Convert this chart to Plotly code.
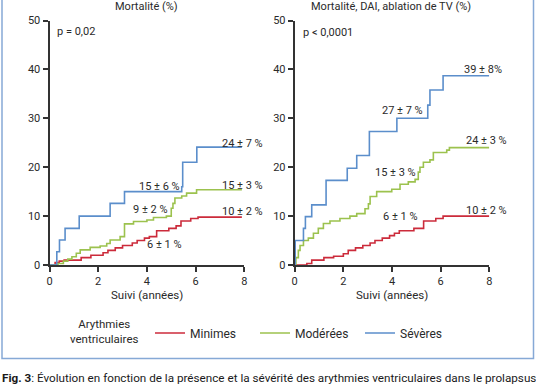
import plotly.graph_objects as go

W, H = 536, 386

# ---------------- data ----------------
panel_titles = ["Mortalité (%)", "Mortalité, DAI, ablation de TV (%)"]
series_names = ["Minimes", "Modérées", "Sévères"]
series_colors = ["#cc2b3b", "#9cc24e", "#5b8ecb"]

# Left panel: Mortalité
left_min_t = [0, 0.23, 0.4, 0.6, 1.3, 1.7, 2.2, 2.4, 2.7, 3.0, 3.4, 3.6, 3.9, 4.1, 4.4, 4.9, 5.2, 5.4, 5.8, 6.1, 7.9]
left_min_v = [0, 0.5, 0.8, 1.0, 1.5, 2.0, 2.5, 3.0, 3.5, 4.0, 4.5, 5.0, 5.5, 5.8, 7.0, 7.5, 8.0, 9.0, 9.5, 9.8, 9.8]

left_mod_t = [0, 0.35, 0.57, 0.75, 0.92, 1.1, 1.26, 1.67, 2.08, 2.35, 2.49, 2.9, 3.08, 3.45, 4.0, 4.27, 4.8, 5.0, 5.07, 5.15, 5.43, 5.63, 6.04, 7.9]
left_mod_v = [0, 0.3, 0.8, 1.2, 1.7, 2.4, 3.1, 3.6, 3.9, 4.4, 5.1, 5.8, 8.4, 8.9, 9.2, 9.7, 10.0, 11.6, 12.6, 13.7, 14.1, 14.7, 15.4, 15.4]

left_sev_t = [0, 0.30, 0.41, 0.64, 1.22, 2.49, 3.08, 5.43, 5.47, 6.05, 7.9]
left_sev_v = [0, 2.7, 5.1, 7.5, 10.0, 12.6, 15.0, 16.0, 21.0, 24.1, 24.1]

# Right panel: Mortalité, DAI, ablation de TV
right_min_t = [0, 0.5, 0.7, 1.2, 1.6, 2.0, 2.2, 2.5, 2.8, 3.1, 3.3, 3.6, 3.9, 4.1, 4.3, 4.9, 5.3, 5.8, 6.1, 8.0]
right_min_v = [0, 0.3, 1.0, 1.5, 1.8, 2.3, 3.0, 3.5, 4.0, 4.5, 5.0, 5.5, 6.0, 6.5, 7.0, 7.5, 9.0, 9.5, 10.0, 10.0]

right_mod_t = [0, 0.05, 0.15, 0.22, 0.36, 0.56, 0.77, 0.97, 1.18, 1.45, 1.86, 2.27, 2.55, 2.89, 3.03, 3.1, 3.37, 3.99, 4.33, 4.67, 4.95, 5.08, 5.15, 5.29, 5.56, 5.7, 6.25, 6.36, 8.0]
right_mod_v = [0, 1.5, 3, 4, 5, 5.5, 6.5, 7.5, 8.5, 9, 9.5, 10, 10.5, 11.5, 12.5, 14, 15, 15.5, 16.5, 17, 17.5, 19, 20, 21, 21.5, 23, 23.5, 24, 24]

right_sev_t = [0, 0.02, 0.36, 0.44, 0.70, 1.29, 2.16, 2.55, 3.07, 4.2, 5.47, 5.56, 6.1, 8.0]
right_sev_v = [0, 5.0, 7.5, 9.9, 12.3, 17.3, 19.8, 22.4, 27.3, 30.0, 32.7, 35.8, 38.7, 38.7]

# annotations: (text, x, y)
left_labels = [("p = 0,02", 0.23, 47.8), ("24 ± 7 %", 7.0, 24.9), ("15 ± 6 %", 3.6, 16.1),
               ("15 ± 3 %", 7.0, 16.3), ("9 ± 2 %", 3.35, 11.4), ("10 ± 2 %", 7.0, 11.0),
               ("6 ± 1 %", 3.93, 4.1)]
right_labels = [("p < 0,0001", 0.26, 47.6), ("39 ± 8%", 6.87, 39.9), ("27 ± 7 %", 3.51, 31.5),
                ("24 ± 3 %", 6.97, 25.5), ("15 ± 3 %", 3.23, 19.0), ("6 ± 1 %", 3.54, 9.9),
                ("10 ± 2 %", 6.97, 11.2)]

x_ticks = [0, 2, 4, 6, 8]
y_ticks = [0, 10, 20, 30, 40, 50]
x_title = "Suivi (années)"
legend_title = "Arythmies<br>ventriculaires"
caption = "<b>Fig. 3</b>: Évolution en fonction de la présence et la sévérité des arythmies ventriculaires dans le prolapsus"

# ---------------- figure ----------------
FONT = "Roboto"
TXT = "#2a2a2a"

fig = go.Figure()

left_data = [(left_min_t, left_min_v), (left_mod_t, left_mod_v), (left_sev_t, left_sev_v)]
right_data = [(right_min_t, right_min_v), (right_mod_t, right_mod_v), (right_sev_t, right_sev_v)]

for i, (t, v) in enumerate(left_data):
    fig.add_trace(go.Scatter(x=t, y=v, mode="lines", line=dict(color=series_colors[i], width=1.6, shape="hv"),
                             name=series_names[i], xaxis="x", yaxis="y", showlegend=True))
for i, (t, v) in enumerate(right_data):
    fig.add_trace(go.Scatter(x=t, y=v, mode="lines", line=dict(color=series_colors[i], width=1.6, shape="hv"),
                             name=series_names[i], xaxis="x2", yaxis="y2", showlegend=False))

def px_x(p):
    return p / W

def px_y(p):
    return (H - p) / H

axis_common = dict(showgrid=False, zeroline=False, showline=True, linecolor="#333333",
                   ticks="outside", ticklen=5, tickwidth=1.5, tickcolor="#333333", automargin=False,
                   tickfont=dict(family=FONT, size=11, color=TXT))

fig.update_layout(
    width=W, height=H,
    margin=dict(l=0, r=0, t=0, b=0, pad=0, autoexpand=False),
    paper_bgcolor="white", plot_bgcolor="white",
    font=dict(family=FONT, size=11, color=TXT),
    xaxis=dict(domain=[px_x(49.5), px_x(244.3)], range=[0, 8], tickvals=x_ticks, anchor="y",
               linewidth=1.5, **axis_common),
    yaxis=dict(domain=[px_y(265), px_y(20.5)], range=[0, 50], tickvals=y_ticks, anchor="x",
               linewidth=2, **axis_common),
    xaxis2=dict(domain=[px_x(294.7), px_x(489.3)], range=[0, 8], tickvals=x_ticks, anchor="y2",
                linewidth=1.5, **axis_common),
    yaxis2=dict(domain=[px_y(265), px_y(20.5)], range=[0, 50], tickvals=y_ticks, anchor="x2",
                linewidth=2, **axis_common),
    legend=dict(orientation="h", x=px_x(150), xanchor="left", y=px_y(333), yanchor="middle",
                entrywidth=60, entrywidthmode="pixels", itemwidth=30,
                font=dict(family=FONT, size=12, color=TXT), bgcolor="rgba(0,0,0,0)"),
)

annotations = []
for txt, x, y in left_labels:
    annotations.append(dict(text=txt, x=x, y=y, xref="x", yref="y", xanchor="left", yanchor="middle",
                            showarrow=False, font=dict(family=FONT, size=11, color=TXT)))
for txt, x, y in right_labels:
    annotations.append(dict(text=txt, x=x, y=y, xref="x2", yref="y2", xanchor="left", yanchor="middle",
                            showarrow=False, font=dict(family=FONT, size=11, color=TXT)))

# panel titles
annotations.append(dict(text=panel_titles[0], x=px_x(146.5), y=px_y(6), xref="paper", yref="paper",
                        xanchor="center", yanchor="middle", showarrow=False, font=dict(family=FONT, size=11, color=TXT)))
annotations.append(dict(text=panel_titles[1], x=px_x(391), y=px_y(6), xref="paper", yref="paper",
                        xanchor="center", yanchor="middle", showarrow=False, font=dict(family=FONT, size=11, color=TXT)))
# x titles
for cx in (146.7, 392):
    annotations.append(dict(text=x_title, x=px_x(cx), y=px_y(295), xref="paper", yref="paper",
                            xanchor="center", yanchor="middle", showarrow=False,
                            font=dict(family=FONT, size=11.5, color=TXT)))
# legend title
annotations.append(dict(text=legend_title, x=px_x(104), y=px_y(331), xref="paper", yref="paper",
                        xanchor="center", yanchor="middle", align="center", showarrow=False,
                        font=dict(family=FONT, size=11.5, color=TXT)))
# caption
annotations.append(dict(text=caption, x=0, y=px_y(378), xref="paper", yref="paper",
                        xanchor="left", yanchor="middle", align="left", showarrow=False,
                        font=dict(family=FONT, size=11.7, color="#1a1a1a")))

fig.update_layout(annotations=annotations)

# frame around the figure
fig.add_shape(type="rect", xref="paper", yref="paper", x0=px_x(2), x1=px_x(533.5), y0=px_y(358.5), y1=px_y(-2),
              line=dict(color="#86a9d6", width=1.5), fillcolor="rgba(0,0,0,0)", layer="below")

fig.write_html("out.html", config={"displayModeBar": False},
               post_script="document.body.style.margin='0';document.body.style.overflow='hidden';")
